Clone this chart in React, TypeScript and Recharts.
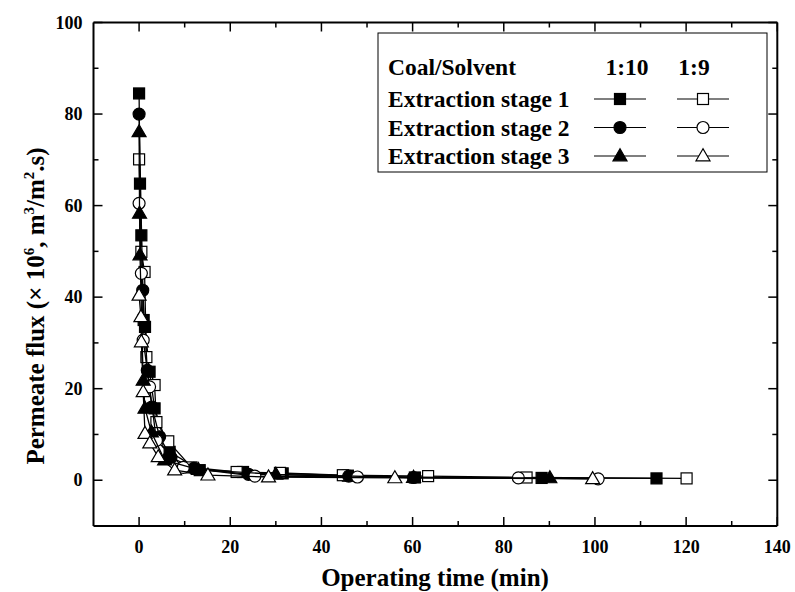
import React from 'react';
import { ScatterChart, Scatter, XAxis, YAxis, Customized } from 'recharts';

// Permeate flux (x10^6 m3/m2.s) against operating time (min), [time, flux]
const stage1Ratio10: [number, number][] = [
  [0, 84.5], [0.2, 64.8], [0.5, 53.5], [1.0, 35.0], [1.3, 33.5], [2.3, 23.7], [3.4, 15.7],
  [6.7, 6.2], [13.3, 2.2], [22.8, 1.8], [31.5, 1.5], [45.8, 1.0], [60.5, 0.6], [88.3, 0.5], [113.5, 0.4],
];
const stage1Ratio9: [number, number][] = [
  [0, 70.1], [0.5, 49.9], [1.2, 45.5], [1.6, 26.9], [3.4, 20.8], [3.8, 12.7], [6.4, 8.5],
  [11.5, 2.8], [21.4, 1.8], [30.9, 1.6], [44.7, 1.1], [63.4, 0.9], [85.0, 0.6], [120.1, 0.4],
];
const stage2Ratio10: [number, number][] = [
  [0, 80.0], [0.8, 41.5], [1.8, 24.0], [2.8, 16.0], [4.5, 9.5], [7.0, 5.0], [12.0, 2.6],
  [24.0, 1.3], [46.0, 0.9], [60.2, 0.6],
];
const stage2Ratio9: [number, number][] = [
  [0, 60.5], [0.5, 45.2], [0.9, 30.6], [2.3, 20.4], [3.8, 8.7], [9.7, 2.8], [25.4, 0.9],
  [47.9, 0.7], [83.2, 0.5], [100.7, 0.3],
];
const stage3Ratio10: [number, number][] = [
  [0, 76.1], [0.1, 58.3], [0.2, 49.2], [0.9, 21.8], [1.3, 15.7], [2.7, 10.5], [5.6, 4.4],
  [13.0, 2.3], [30.0, 1.3], [60.2, 0.6], [90.1, 0.5],
];
const stage3Ratio9: [number, number][] = [
  [0, 40.4], [0.4, 35.7], [0.5, 30.2], [0.9, 19.3], [1.3, 10.2], [2.35, 8.1], [4.2, 5.1],
  [7.8, 2.2], [15.1, 1.1], [28.4, 0.7], [56.1, 0.5], [99.5, 0.3],
];

const xTicks = [0, 10, 20, 30, 40, 50, 60, 70, 80, 90, 100, 110, 120, 130, 140];
const yTicks = [0, 10, 20, 30, 40, 50, 60, 70, 80, 90, 100];
const xDomain: [number, number] = [-10, 140];
const yDomain: [number, number] = [-10, 100];

const legendHeader = ['Coal/Solvent', '1:10', '1:9'];
const legendRows = ['Extraction stage 1', 'Extraction stage 2', 'Extraction stage 3'];

const FONT = "'Liberation Serif', 'Times New Roman', serif";

type Kind = 'square' | 'circle' | 'triangle';

const Marker = ({ kind, filled, cx, cy }: { kind: Kind; filled: boolean; cx: number; cy: number }) => {
  const fill = filled ? '#000' : '#fff';
  const common = { fill, stroke: '#000', strokeWidth: 1.2 };
  if (kind === 'square') {
    const s = 11;
    return <rect x={cx - s / 2} y={cy - s / 2} width={s} height={s} {...common} />;
  }
  if (kind === 'circle') {
    return <circle cx={cx} cy={cy} r={6} {...common} />;
  }
  const h = 12;
  const w = 14;
  return (
    <polygon
      points={`${cx},${cy - h * 0.6} ${cx - w / 2},${cy + h * 0.4} ${cx + w / 2},${cy + h * 0.4}`}
      {...common}
    />
  );
};

const makeShape = (kind: Kind, filled: boolean) => (props: any) =>
  <Marker kind={kind} filled={filled} cx={props.cx} cy={props.cy} />;

const toRows = (pts: [number, number][]) => pts.map(([t, flux]) => ({ t, flux }));

const series: { name: string; data: [number, number][]; kind: Kind; filled: boolean }[] = [
  { name: 'Extraction stage 1, 1:10', data: stage1Ratio10, kind: 'square', filled: true },
  { name: 'Extraction stage 1, 1:9', data: stage1Ratio9, kind: 'square', filled: false },
  { name: 'Extraction stage 2, 1:10', data: stage2Ratio10, kind: 'circle', filled: true },
  { name: 'Extraction stage 2, 1:9', data: stage2Ratio9, kind: 'circle', filled: false },
  { name: 'Extraction stage 3, 1:10', data: stage3Ratio10, kind: 'triangle', filled: true },
  { name: 'Extraction stage 3, 1:9', data: stage3Ratio9, kind: 'triangle', filled: false },
];

const MAJOR = 9;
const MINOR = 5;
const tickStroke = { stroke: '#000', strokeWidth: 1.5 };

const BottomTick = (p: any) => {
  const v = p.payload.value;
  const major = v % 20 === 0;
  return (
    <g>
      <line x1={p.x} x2={p.x} y1={p.y} y2={p.y - (major ? MAJOR : MINOR)} {...tickStroke} />
      {major && (
        <text x={p.x} y={p.y + 27} textAnchor="middle" fontFamily={FONT} fontWeight="bold" fontSize={18} fill="#000">
          {v}
        </text>
      )}
    </g>
  );
};
const TopTick = (p: any) => {
  const major = p.payload.value % 20 === 0;
  return <line x1={p.x} x2={p.x} y1={p.y} y2={p.y + (major ? MAJOR : MINOR)} {...tickStroke} />;
};
const LeftTick = (p: any) => {
  const v = p.payload.value;
  const major = v % 20 === 0;
  return (
    <g>
      <line x1={p.x} x2={p.x + (major ? MAJOR : MINOR)} y1={p.y} y2={p.y} {...tickStroke} />
      {major && (
        <text x={p.x - 11} y={p.y + 6} textAnchor="end" fontFamily={FONT} fontWeight="bold" fontSize={18} fill="#000">
          {v}
        </text>
      )}
    </g>
  );
};
const RightTick = (p: any) => {
  const major = p.payload.value % 20 === 0;
  return <line x1={p.x} x2={p.x - (major ? MAJOR : MINOR)} y1={p.y} y2={p.y} {...tickStroke} />;
};

const LegendBox = () => {
  const left = 378;
  const top = 33;
  const colA = 620;
  const colB = 703;
  const half = 26;
  const textProps = { fontFamily: FONT, fontWeight: 'bold' as const, fontSize: 23.5, fill: '#000' };
  const kinds: Kind[] = ['square', 'circle', 'triangle'];
  return (
    <g>
      <rect x={left} y={top} width={389} height={139} fill="#fff" stroke="#000" strokeWidth={1} />
      <text x={388} y={75} {...textProps}>{legendHeader[0]}</text>
      <text x={627} y={75} textAnchor="middle" {...textProps}>{legendHeader[1]}</text>
      <text x={694} y={75} textAnchor="middle" {...textProps}>{legendHeader[2]}</text>
      {legendRows.map((label, i) => {
        const cy = 99 + i * 28.5;
        return (
          <g key={label}>
            <text x={388} y={cy + 8} {...textProps}>{label}</text>
            <line x1={colA - half} x2={colA + half} y1={cy} y2={cy} stroke="#000" strokeWidth={1.2} />
            <Marker kind={kinds[i]} filled cx={colA} cy={cy} />
            <line x1={colB - half} x2={colB + half} y1={cy} y2={cy} stroke="#000" strokeWidth={1.2} />
            <Marker kind={kinds[i]} filled={false} cx={colB} cy={cy} />
          </g>
        );
      })}
    </g>
  );
};

const AxisTitles = () => {
  const t = { fontFamily: FONT, fontWeight: 'bold' as const, fontSize: 25, fill: '#000' };
  return (
    <g>
      <text x={435} y={586} textAnchor="middle" {...t}>Operating time (min)</text>
      <text transform="translate(44, 306) rotate(-90)" textAnchor="middle" {...t}>
        <tspan>Permeate flux (× 10</tspan>
        <tspan fontSize={15} dy={-10}>6</tspan>
        <tspan dy={10}>, m</tspan>
        <tspan fontSize={15} dy={-10}>3</tspan>
        <tspan dy={10}>/m</tspan>
        <tspan fontSize={15} dy={-10}>2</tspan>
        <tspan dy={10}>.s)</tspan>
      </text>
    </g>
  );
};

const axisLine = { stroke: '#000', strokeWidth: 2 };

export default function App() {
  return (
    <div style={{ position: 'absolute', left: 0, top: 0, width: 795, height: 592, background: '#fff' }}>
      <ScatterChart
        width={795}
        height={592}
        margin={{ top: 21.5, right: 16.7, bottom: 65, left: 92.5 }}
      >
        <XAxis
          xAxisId="b"
          type="number"
          dataKey="t"
          domain={xDomain}
          ticks={xTicks}
          interval={0}
          height={1}
          tickSize={0}
          tickMargin={0}
          tickLine={false}
          axisLine={axisLine}
          tick={BottomTick}
          allowDataOverflow
        />
        <XAxis
          xAxisId="t"
          orientation="top"
          type="number"
          dataKey="t"
          domain={xDomain}
          ticks={xTicks}
          interval={0}
          height={1}
          tickSize={0}
          tickMargin={0}
          tickLine={false}
          axisLine={axisLine}
          tick={TopTick}
          allowDataOverflow
        />
        <YAxis
          yAxisId="l"
          type="number"
          dataKey="flux"
          domain={yDomain}
          ticks={yTicks}
          interval={0}
          width={1}
          tickSize={0}
          tickMargin={0}
          tickLine={false}
          axisLine={axisLine}
          tick={LeftTick}
          allowDataOverflow
        />
        <YAxis
          yAxisId="r"
          orientation="right"
          type="number"
          dataKey="flux"
          domain={yDomain}
          ticks={yTicks}
          interval={0}
          width={1}
          tickSize={0}
          tickMargin={0}
          tickLine={false}
          axisLine={axisLine}
          tick={RightTick}
          allowDataOverflow
        />
        {series.map((s) => (
          <Scatter
            key={s.name}
            name={s.name}
            xAxisId="b"
            yAxisId="l"
            data={toRows(s.data)}
            line={{ stroke: '#000', strokeWidth: 1.3 }}
            lineType="joint"
            shape={makeShape(s.kind, s.filled)}
            isAnimationActive={false}
          />
        ))}
        <Customized component={LegendBox} />
        <Customized component={AxisTitles} />
      </ScatterChart>
    </div>
  );
}
